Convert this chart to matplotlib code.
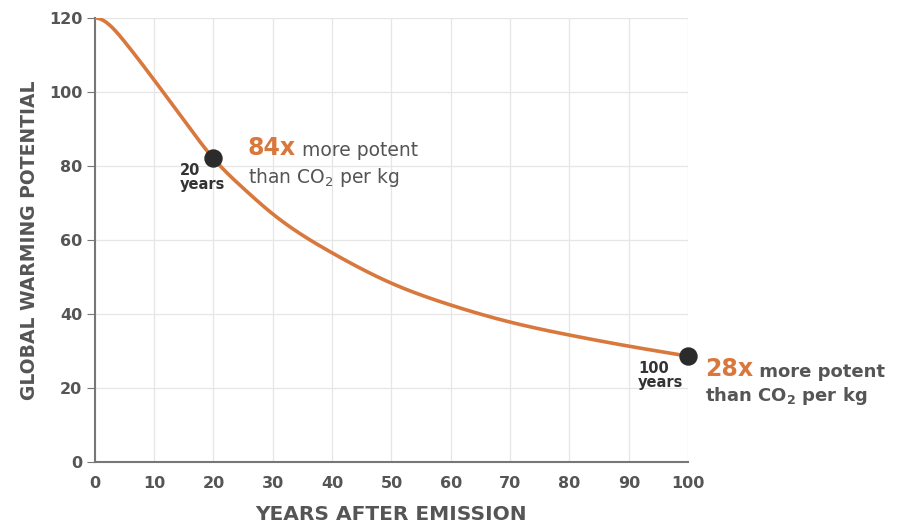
import numpy as np
import matplotlib.pyplot as plt

plt.rcParams['font.family'] = ['DejaVu Sans']

# GWP of methane vs. time horizon
years = [0, 5, 10, 15, 20, 25, 30, 40, 50, 60, 70, 80, 90, 100]
gwp = [120, 113.6, 103.2, 92.4, 82, 74, 67, 56.5, 48.3, 42.4, 37.8, 34.3, 31.3, 28.6]
mark_years = [20, 100]
mark_gwp = [82, 28.6]

orange = "#D9783D"
grey = "#555555"


def spline(x, y, xn, s0=0.0):
    # cubic spline, slope s0 at the start, natural at the end
    x = np.asarray(x, float)
    y = np.asarray(y, float)
    n = len(x)
    h = np.diff(x)
    A = np.zeros((n, n))
    b = np.zeros(n)
    A[0, 0] = 2 * h[0]
    A[0, 1] = h[0]
    b[0] = 6 * ((y[1] - y[0]) / h[0] - s0)
    for i in range(1, n - 1):
        A[i, i - 1] = h[i - 1]
        A[i, i] = 2 * (h[i - 1] + h[i])
        A[i, i + 1] = h[i]
        b[i] = 6 * ((y[i + 1] - y[i]) / h[i] - (y[i] - y[i - 1]) / h[i - 1])
    A[-1, -1] = 1.0
    M = np.linalg.solve(A, b)
    idx = np.clip(np.searchsorted(x, xn) - 1, 0, n - 2)
    hi = h[idx]
    a = x[idx + 1] - xn
    c = xn - x[idx]
    return (M[idx] * a**3 / (6 * hi) + M[idx + 1] * c**3 / (6 * hi)
            + (y[idx] / hi - M[idx] * hi / 6) * a + (y[idx + 1] / hi - M[idx + 1] * hi / 6) * c)


fig = plt.figure(figsize=(9.03, 5.25), dpi=100)
ax = fig.add_axes([0.105, 0.12, 0.657, 0.846])

xs = np.linspace(0, 100, 600)
ax.plot(xs, spline(years, gwp, xs), color=orange, lw=2.6, zorder=3, solid_capstyle="round")
ax.scatter(mark_years, mark_gwp, s=150, color="#2b2b2b", zorder=4, clip_on=False)

ax.set_xlim(0, 100)
ax.set_ylim(0, 120)
ax.set_xticks(range(0, 101, 10))
ax.set_yticks(range(0, 121, 20))
ax.grid(True, color="#e6e6e6", lw=0.9)
ax.set_axisbelow(True)
for s in ["top", "right"]:
    ax.spines[s].set_visible(False)
ax.spines["left"].set_color("#777777")
ax.spines["bottom"].set_color("#777777")
ax.spines["left"].set_linewidth(1.5)
ax.spines["bottom"].set_linewidth(1.5)
ax.tick_params(axis="x", length=0, pad=10, labelsize=11.5, labelcolor=grey)
ax.tick_params(axis="y", length=6, color="#777777", pad=3, labelsize=11.5, labelcolor=grey)
for lab in ax.get_xticklabels() + ax.get_yticklabels():
    lab.set_fontweight("bold")

ax.set_xlabel("YEARS AFTER EMISSION", fontsize=14.5, fontweight="bold", color=grey, labelpad=10)
ax.set_ylabel("GLOBAL WARMING POTENTIAL", fontsize=13.5, fontweight="bold", color=grey, labelpad=7)

# 20-year annotation
ax.text(14.3, 80.8, "20\nyears", fontsize=10.5, fontweight="bold", color="#333333",
        va="top", ha="left", linespacing=0.95)
t84 = ax.text(25.8, 83, "84x", fontsize=17, fontweight="bold", color=orange, va="baseline")
ax.annotate(" more potent", xy=(1, 0), xycoords=t84, fontsize=13.5, color=grey, va="bottom")
ax.text(25.8, 75.5, r"than CO$_\mathregular{2}$ per kg", fontsize=13.5, color=grey, va="baseline")

# 100-year annotation
ax.text(91.6, 27.3, "100\nyears", fontsize=10.5, fontweight="bold", color="#333333",
        va="top", ha="left", linespacing=0.95, clip_on=False)
t28 = ax.text(102.8, 23.3, "28x", fontsize=17, fontweight="bold", color=orange,
              va="baseline", clip_on=False)
ax.annotate(" more potent", xy=(1, 0), xycoords=t28, fontsize=13, fontweight="bold",
            color=grey, va="bottom")
ax.text(102.8, 16.5, r"than CO$_\mathregular{2}$ per kg", fontsize=13, fontweight="bold",
        color=grey, va="baseline", clip_on=False)

fig.savefig("out.png", dpi=100)
